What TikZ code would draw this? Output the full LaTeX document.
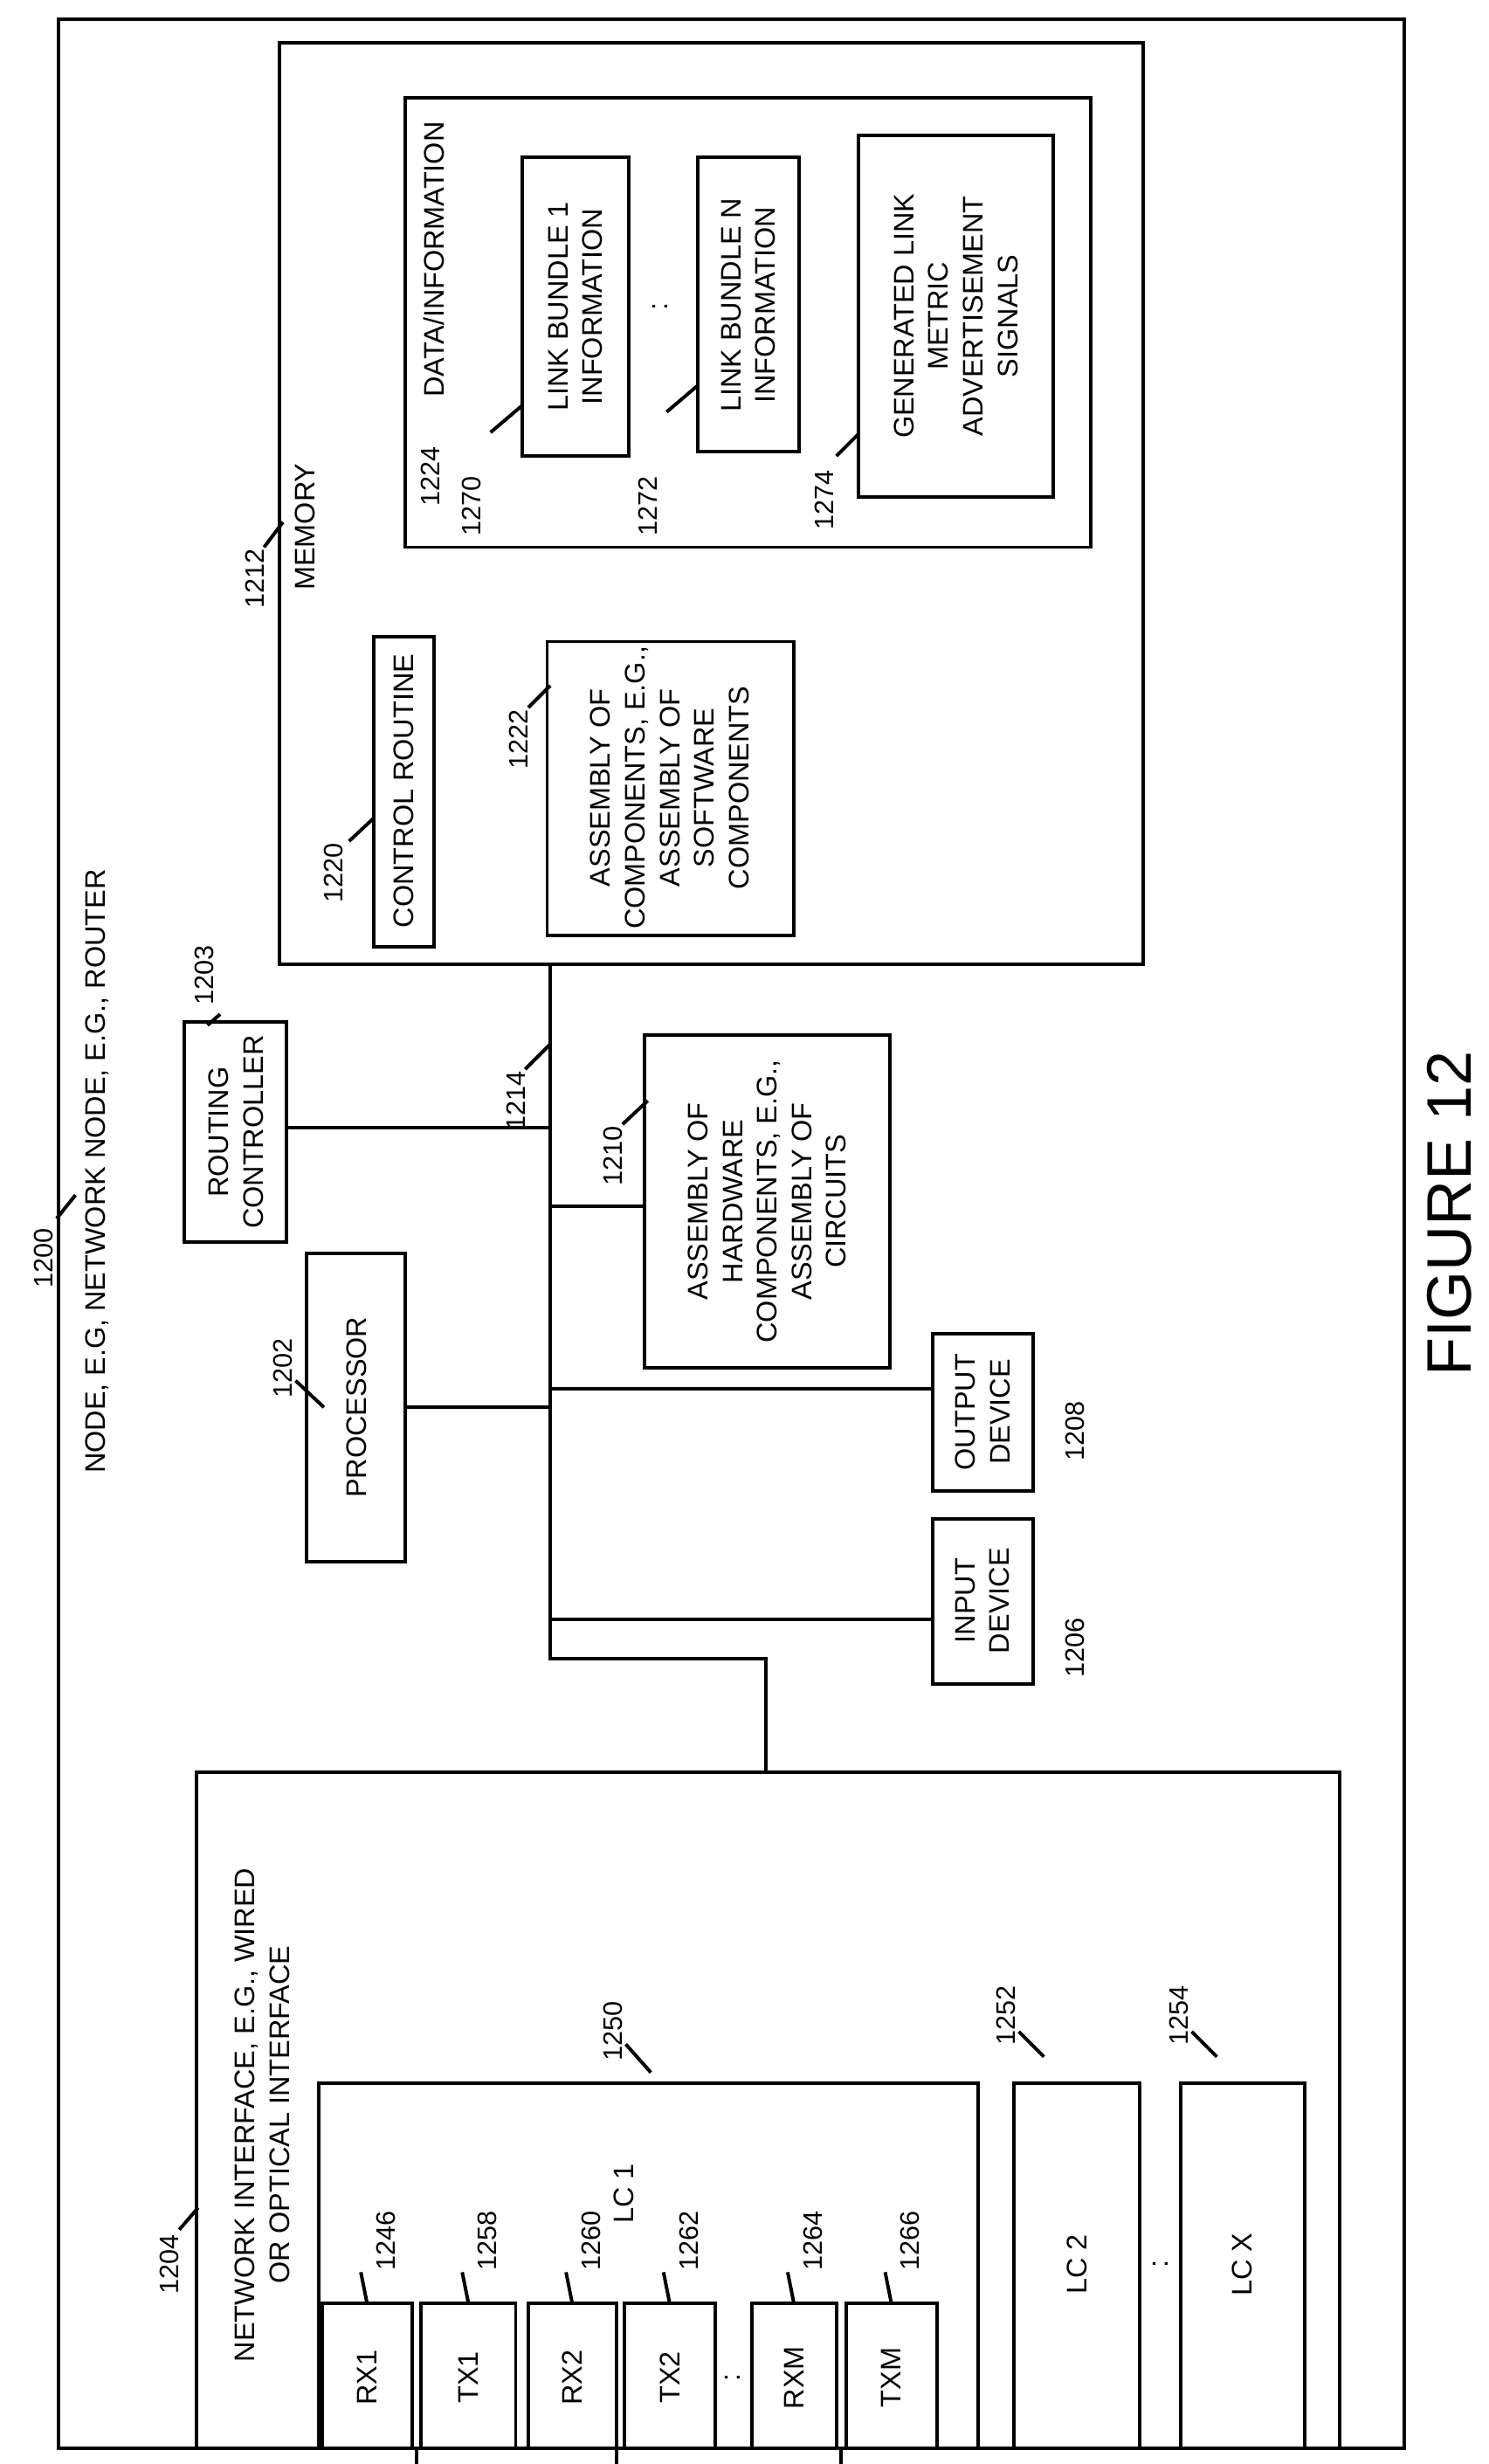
\documentclass[tikz,border=0pt]{standalone}
\usepackage{fontspec}
\setmainfont{Liberation Sans}
\begin{document}
\begin{tikzpicture}[x=0.5pt,y=-0.5pt,line width=1.1pt,
	txt/.style={rotate=90, align=center, font=\fontsize{9}{11}\selectfont, inner sep=0pt},
	num/.style={rotate=90, font=\fontsize{8.5}{10}\selectfont, inner sep=1pt}]
	\useasboundingbox (0,0) rectangle (947,1567);
	% outer node
	\draw (37,12) rectangle (893,1557);
	\node[txt] (title) at (62,745) {NODE, E.G, NETWORK NODE, E.G., ROUTER};
	\node[num] (n1200) at (28,800) {1200};
	\draw (36,775) -- (48,760);
	% memory
	\draw (178,27) rectangle (727,613);
	\node[txt] (mem) at (194,335) {MEMORY};
	\node[num] (n1212) at (162,368) {1212};
	\draw (168,348) -- (180,332);
	\draw (258,62) rectangle (694,348);
	\node[txt] (data) at (276,165) {DATA/INFORMATION};
	\node[num] (n1224) at (274,303) {1224};
	\draw (332,100) rectangle (400,290);
	\node[txt] (lb1) at (366,195) {LINK BUNDLE 1\\INFORMATION};
	\node[num] (n1270) at (300,322) {1270};
	\draw (312,275) -- (332,258);
	\node[txt] at (420,195) {:};
	\draw (444,100) rectangle (508,287);
	\node[txt] (lbn) at (476,194) {LINK BUNDLE N\\INFORMATION};
	\node[num] (n1272) at (412,322) {1272};
	\draw (424,262) -- (444,245);
	\draw (546,86) rectangle (670,316);
	\node[txt] (gen) at (608,201) {GENERATED LINK\\METRIC\\ADVERTISEMENT\\SIGNALS};
	\node[num] (n1274) at (524,318) {1274};
	\draw (532,290) -- (546,276);
	\draw (238,405) rectangle (276,602);
	\node[txt] (ctrl) at (257,503) {CONTROL ROUTINE};
	\node[num] (n1220) at (212,555) {1220};
	\draw (222,535) -- (238,520);
	\draw (348,408) rectangle (505,595);
	\node[txt] (swc) at (426,501) {ASSEMBLY OF\\COMPONENTS, E.G.,\\ASSEMBLY OF\\SOFTWARE\\COMPONENTS};
	\node[num] (n1222) at (330,470) {1222};
	\draw (336,450) -- (350,436);
	% bus
	\draw (350,613) -- (350,1055) -- (487,1055) -- (487,1127);
	\node[num] (n1214) at (328,700) {1214};
	\draw (334,680) -- (350,664);
	\draw (117,650) rectangle (182,790);
	\node[txt] (rc) at (150,720) {ROUTING\\CONTROLLER};
	\node[num] (n1203) at (130,620) {1203};
	\draw (140,645) -- (132,652);
	\draw (182,717) -- (350,717);
	\draw (195,797) rectangle (258,993);
	\node[txt] (proc) at (227,895) {PROCESSOR};
	\node[num] (n1202) at (180,870) {1202};
	\draw (188,878) -- (206,895);
	\draw (258,895) -- (350,895);
	\draw (410,658) rectangle (566,870);
	\node[txt] (hwc) at (488,764) {ASSEMBLY OF\\HARDWARE\\COMPONENTS, E.G.,\\ASSEMBLY OF\\CIRCUITS};
	\node[num] (n1210) at (390,735) {1210};
	\draw (396,715) -- (412,700);
	\draw (350,767) -- (410,767);
	\draw (593,848) rectangle (657,948);
	\node[txt] (out) at (625,898) {OUTPUT\\DEVICE};
	\node[num] (n1208) at (684,910) {1208};
	\draw (350,883) -- (593,883);
	\draw (593,966) rectangle (657,1071);
	\node[txt] (in) at (625,1018) {INPUT\\DEVICE};
	\node[num] (n1206) at (684,1048) {1206};
	\draw (350,1030) -- (593,1030);
	% network interface
	\draw (125,1127) rectangle (852,1557);
	\node[txt] (ni) at (167,1345) {NETWORK INTERFACE, E.G., WIRED\\OR OPTICAL INTERFACE};
	\node[num] (n1204) at (108,1440) {1204};
	\draw (114,1418) -- (126,1404);
	\draw (203,1325) rectangle (622,1557);
	\node[txt] (lc1) at (397,1395) {LC 1};
	\node[num] (n1250) at (390,1292) {1250};
	\draw (398,1300) -- (414,1318);
	\draw (645,1325) rectangle (725,1557);
	\node[txt] (lc2) at (685,1440) {LC 2};
	\node[num] (n1252) at (640,1282) {1252};
	\draw (648,1292) -- (664,1308);
	\node[txt] at (738,1440) {:};
	\draw (751,1325) rectangle (830,1557);
	\node[txt] (lcx) at (790,1440) {LC X};
	\node[num] (n1254) at (750,1282) {1254};
	\draw (758,1292) -- (774,1308);
	% ports
	\foreach \xa/\xb/\lab/\num in {205/262/RX1/1246, 268/328/TX1/1258, 336/392/RX2/1260, 397/455/TX2/1262, 478/532/RXM/1264, 538/596/TXM/1266}{
		\draw (\xa,1465) rectangle (\xb,1557);
		\node[txt] (p\num) at ({(\xa+\xb)/2},1512) {\lab};
		\node[num] (l\num) at ({(\xa+\xb)/2+12},1425) {\num};
		\draw ({(\xa+\xb)/2},1465) -- ({(\xa+\xb)/2-4},1445);
	}
	\node[txt] at (466,1512) {:};
	\foreach \xl in {265,392,535}{\draw (\xl,1557) -- (\xl,1590);}
	\node[rotate=90, font=\fontsize{20}{24}\selectfont] (fig) at (922,772) {FIGURE 12};
\end{tikzpicture}
\end{document}
